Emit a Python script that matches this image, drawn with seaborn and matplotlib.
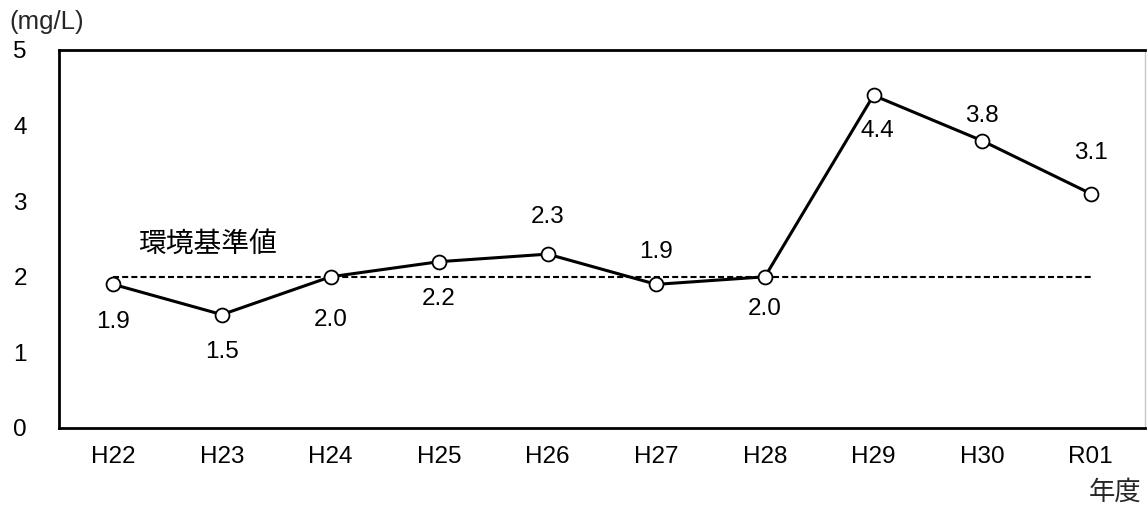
import matplotlib
matplotlib.use("Agg")
import matplotlib.pyplot as plt
import seaborn as sns
import pandas as pd

years = ["H22", "H23", "H24", "H25", "H26", "H27", "H28", "H29", "H30", "R01"]
values = [1.9, 1.5, 2.0, 2.2, 2.3, 1.9, 2.0, 4.4, 3.8, 3.1]
standard = 2.0
standard_label = "環境基準値"
unit_label = "(mg/L)"
x_label = "年度"

# label offsets in points (layout only)
label_dx = [0, 0, 0, 0, 0, 0, 0, 3, 0, 0]
label_dy = [-27, -27, -31, -27, 27, 23, -23, -26, 18, 29]

sns.set_theme(style="white")
plt.rcParams['font.family'] = ['Liberation Sans', 'Noto Sans CJK JP', 'DejaVu Sans']

df = pd.DataFrame({"year": years, "value": values, "idx": range(len(years))})

fig = plt.figure(figsize=(11.47, 5.13), dpi=100)
ax = fig.add_axes([59/1147, 1 - 428/513, 1086/1147, 378/513])

ax.plot([0, len(years) - 1], [standard, standard], ls=(0, (2.9, 1.5)), lw=1.5, color="black", zorder=2)
sns.lineplot(data=df, x="idx", y="value", ax=ax, color="black", lw=2.2,
             marker="o", markersize=10, markerfacecolor="white",
             markeredgecolor="black", markeredgewidth=1.3, zorder=3)

for i, (v, dx, dy) in enumerate(zip(values, label_dx, label_dy)):
    ax.annotate(f"{v:.1f}", (i, v), xytext=(dx, dy), textcoords="offset points",
                ha="center", va="center", fontsize=17.5, color="black")

ax.text(0.87, 2.43, standard_label, ha="center", va="center", fontsize=20,
        family=['Noto Sans CJK JP', 'DejaVu Sans'], color="black")

ax.set_xlim(-0.5, len(years) - 0.5)
ax.set_ylim(0, 5)
ax.set_yticks(range(0, 6))
ax.set_xticks(range(len(years)))
ax.set_xticklabels(years)
ax.tick_params(axis="both", length=0, labelsize=17.5, colors="black")
ax.tick_params(axis="x", pad=13)
ax.tick_params(axis="y", pad=28)
for lab in ax.get_yticklabels():
    lab.set_horizontalalignment("center")
ax.set_xlabel("")
ax.set_ylabel("")

for s in ["left", "bottom", "top"]:
    ax.spines[s].set_color("black")
    ax.spines[s].set_linewidth(2.0)
ax.spines["right"].set_color("#c8c8c8")
ax.spines["right"].set_linewidth(1.0)

fig.text(9/1147, 1 - 22/513, unit_label, ha="left", va="center", fontsize=18.5)
fig.text(1141/1147, 1 - 492/513, x_label, ha="right", va="center", fontsize=19,
         family=['Noto Sans CJK JP', 'DejaVu Sans'])

fig.savefig("out.png", dpi=100)
